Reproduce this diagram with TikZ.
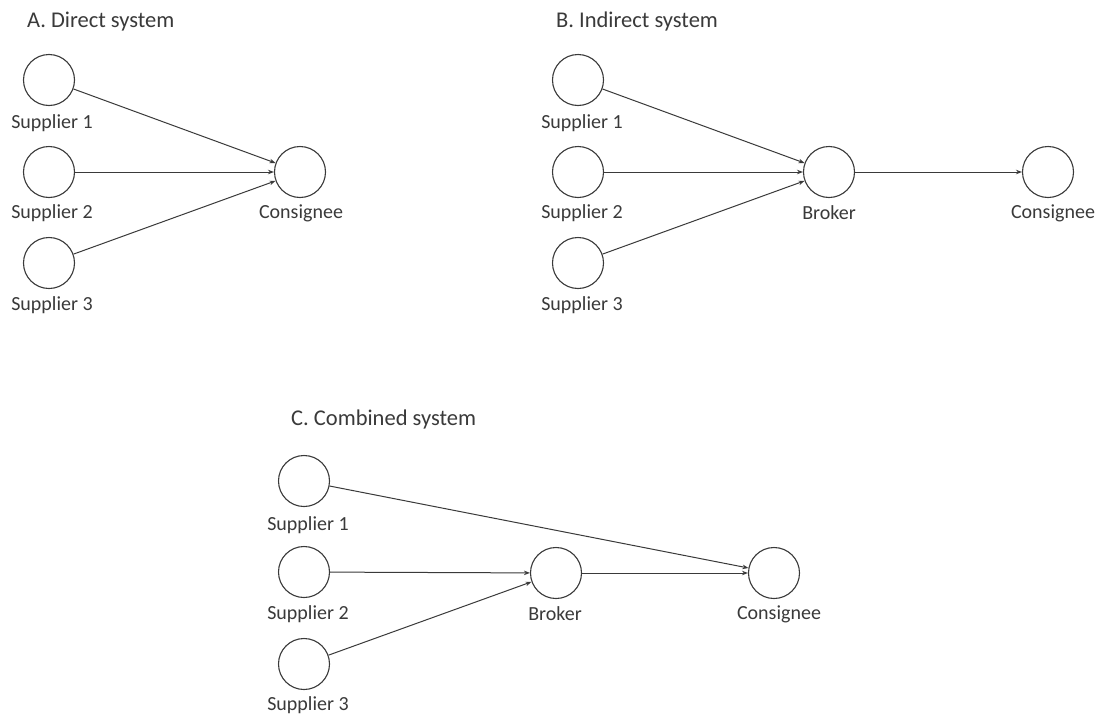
\documentclass[tikz,border=0pt]{standalone}
\usepackage{fontspec}
\setmainfont{Carlito}
\usetikzlibrary{arrows.meta}
\definecolor{ink}{HTML}{3A3A3A}
\begin{document}
\begin{tikzpicture}[x=1pt,y=-1pt,
  nd/.style={circle,draw=ink,line width=1.1pt,minimum size=51pt,inner sep=0pt},
  lbl/.style={text=ink,font=\fontsize{20}{23}\selectfont,inner sep=0pt},
  ttl/.style={text=ink,font=\fontsize{22.5}{25}\selectfont,inner sep=0pt,anchor=west},
  conn/.style={draw=ink,line width=1pt,-{Stealth[length=6pt,width=4.5pt]}}]
\useasboundingbox[fill=white] (0,0) rectangle (1097,715);

% Panel A
\node[ttl] (tA) at (27,22) {A. Direct system};
\node[nd] (a1) at (49,80) {};
\node[nd] (a2) at (49,172) {};
\node[nd] (a3) at (49,263) {};
\node[nd] (ac) at (300,172) {};
\node[lbl] (la1) at (52,123) {Supplier 1};
\node[lbl] (la2) at (52,213) {Supplier 2};
\node[lbl] (la3) at (52,305) {Supplier 3};
\node[lbl] (lac) at (301,213) {Consignee};
\draw[conn] (a1) -- (ac);
\draw[conn] (a2) -- (ac);
\draw[conn] (a3) -- (ac);

% Panel B
\node[ttl] (tB) at (556,22) {B. Indirect system};
\node[nd] (b1) at (578,80) {};
\node[nd] (b2) at (578,172) {};
\node[nd] (b3) at (578,263) {};
\node[nd] (bb) at (829,172) {};
\node[nd] (bc) at (1048,172) {};
\node[lbl] (lb1) at (582,123) {Supplier 1};
\node[lbl] (lb2) at (582,213) {Supplier 2};
\node[lbl] (lb3) at (582,305) {Supplier 3};
\node[lbl] (lbb) at (829,213) {Broker};
\node[lbl] (lbc) at (1053,213) {Consignee};
\draw[conn] (b1) -- (bb);
\draw[conn] (b2) -- (bb);
\draw[conn] (b3) -- (bb);
\draw[conn] (bb) -- (bc);

% Panel C
\node[ttl] (tC) at (291,419) {C. Combined system};
\node[nd] (c1) at (304,481) {};
\node[nd] (c2) at (304,572) {};
\node[nd] (c3) at (304,664) {};
\node[nd] (cb) at (556,573) {};
\node[nd] (cc) at (774,573) {};
\node[lbl] (lc1) at (308,525) {Supplier 1};
\node[lbl] (lc2) at (308,614) {Supplier 2};
\node[lbl] (lc3) at (308,705) {Supplier 3};
\node[lbl] (lcb) at (555,614) {Broker};
\node[lbl] (lcc) at (779,614) {Consignee};
\draw[conn] (c1) -- (cc);
\draw[conn] (c2) -- (cb);
\draw[conn] (c3) -- (cb);
\draw[conn] (cb) -- (cc);
\end{tikzpicture}
\end{document}
